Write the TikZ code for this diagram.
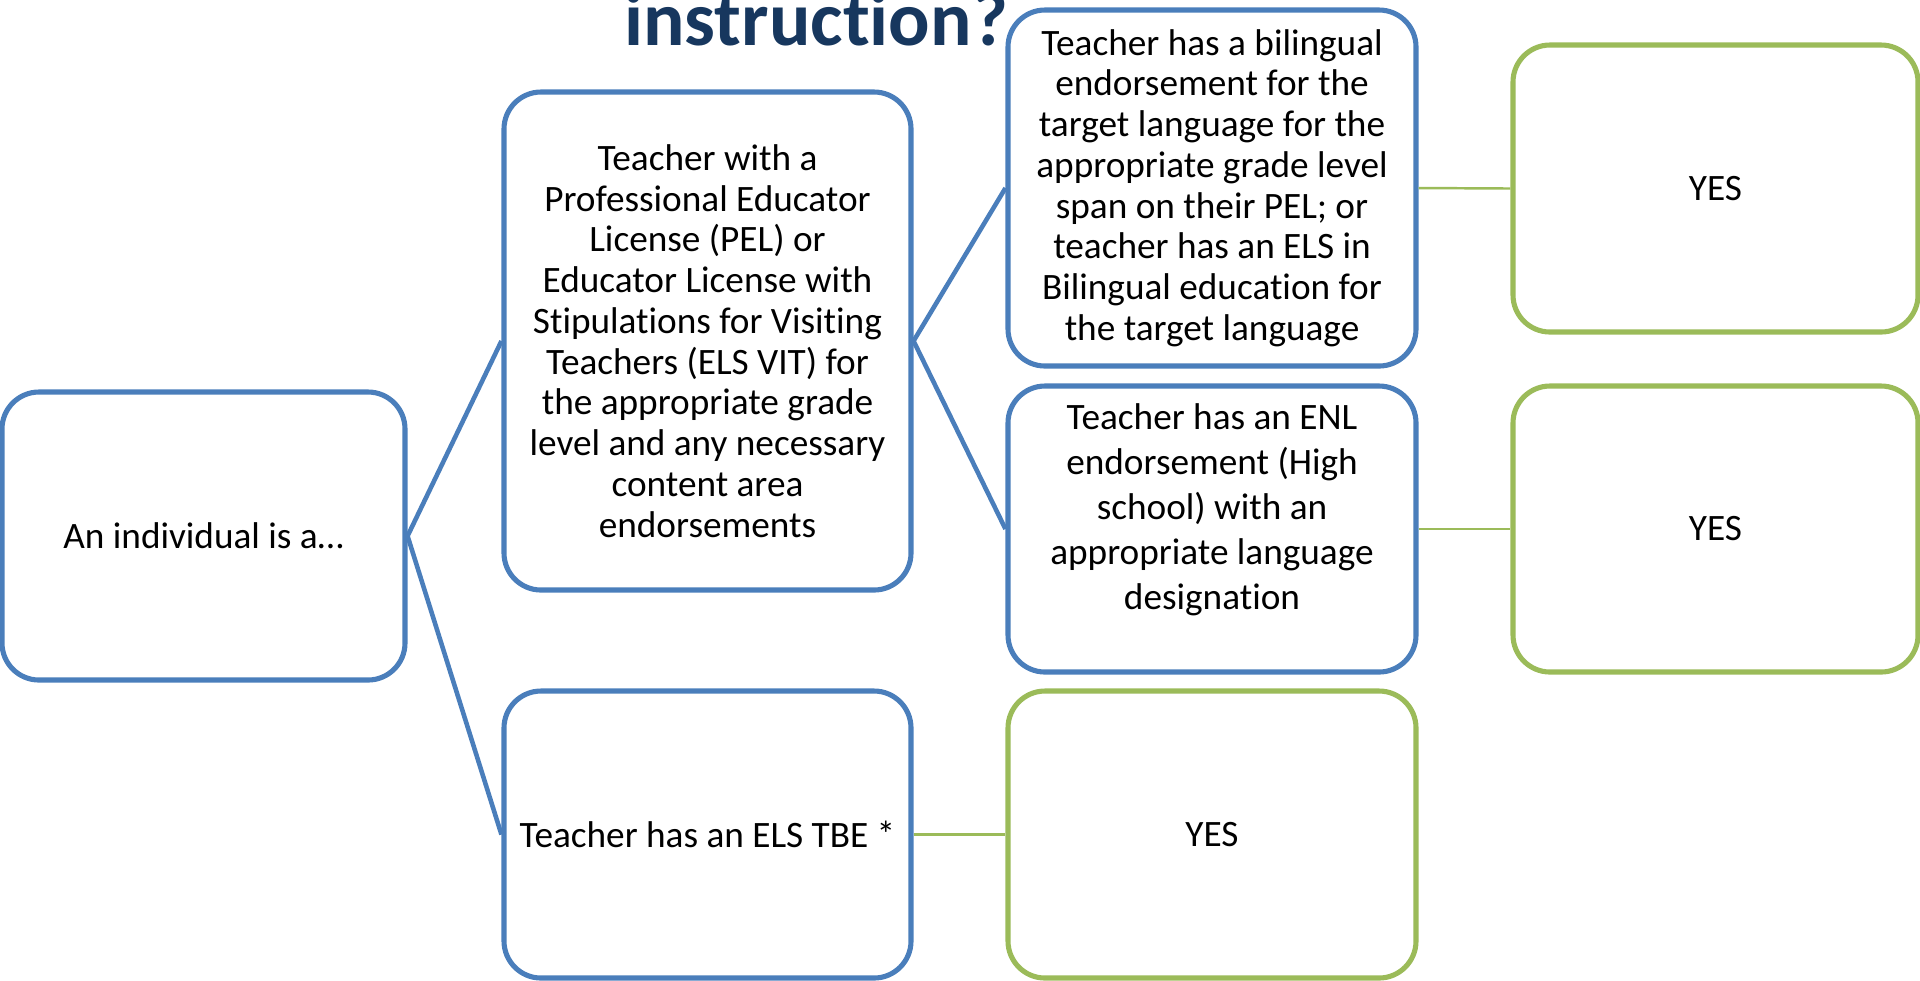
\documentclass[tikz,border=0pt]{standalone}
\usepackage{fontspec}
\setmainfont{Carlito}[Ligatures=NoCommon]
\definecolor{sablue}{RGB}{74,126,187}
\definecolor{sagreen}{RGB}{155,187,89}
\definecolor{titleblue}{RGB}{23,55,94}
\tikzset{
  bbox/.style={draw=sablue, line width=1.45pt, rounded corners=0.37cm, rectangle, inner sep=0pt, fill=white},
  gbox/.style={draw=sagreen, line width=1.45pt, rounded corners=0.37cm, rectangle, inner sep=0pt, fill=white},
  txt/.style={align=center, font=\fontsize{10.6}{11.6}\selectfont, inner sep=0pt},
  bline/.style={draw=sablue, line width=1.3pt},
  gline/.style={draw=sagreen, line width=0.7pt}
}
\begin{document}
\begin{tikzpicture}[x=1cm,y=-1cm]
\useasboundingbox (0,0) rectangle (19.2,9.8);
\clip (0,0) rectangle (19.2,9.8);
\node[anchor=base, text=titleblue, font=\fontsize{22}{26}\selectfont\bfseries, inner sep=0pt] (title) at (8.16,0.45) {instruction?};

\node[bbox, minimum width=4.03cm, minimum height=2.88cm] (A) at (2.035,5.36) {};
\node[txt] (At) at (A.center) {An individual is a…};

\node[bbox, minimum width=4.07cm, minimum height=4.98cm] (B) at (7.075,3.41) {};
\node[txt] (Bt) at (B.center) {Teacher with a\\Professional Educator\\License (PEL) or\\Educator License with\\Stipulations for Visiting\\Teachers (ELS VIT) for\\the appropriate grade\\level and any necessary\\content area\\endorsements};

\node[bbox, minimum width=4.08cm, minimum height=3.56cm] (C) at (12.12,1.88) {};
\node[txt] (Ct) at (C.center) {Teacher has a bilingual\\endorsement for the\\target language for the\\appropriate grade level\\span on their PEL; or\\teacher has an ELS in\\Bilingual education for\\the target language};

\node[bbox, minimum width=4.08cm, minimum height=2.86cm] (D) at (12.12,5.29) {};
\node[txt, font=\fontsize{10.6}{12.8}\selectfont] (Dt) at ([yshift=0.19cm]D.center) {Teacher has an ENL\\endorsement (High\\school) with an\\appropriate language\\designation};

\node[bbox, minimum width=4.07cm, minimum height=2.87cm] (E) at (7.075,8.345) {};
\node[txt] (Et) at (E.center) {Teacher has an ELS TBE *};

\node[gbox, minimum width=4.05cm, minimum height=2.87cm] (F) at (17.155,1.885) {};
\node[txt] (Ft) at (F.center) {YES};
\node[gbox, minimum width=4.05cm, minimum height=2.86cm] (G) at (17.155,5.29) {};
\node[txt] (Gt) at (G.center) {YES};
\node[gbox, minimum width=4.08cm, minimum height=2.87cm] (H) at (12.12,8.345) {};
\node[txt] (Ht) at (H.center) {YES};

\draw[bline] (A.east) -- (B.west);
\draw[bline] (A.east) -- (E.west);
\draw[bline] (B.east) -- (C.west);
\draw[bline] (B.east) -- (D.west);
\draw[gline] (C.east) -- (F.west);
\draw[gline] (D.east) -- (G.west);
\draw[gline] (E.east) -- (H.west);
\end{tikzpicture}
\end{document}
